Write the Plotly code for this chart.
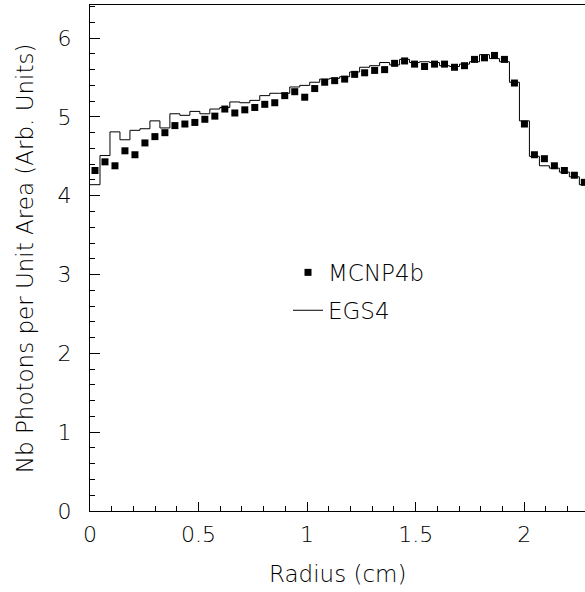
import plotly.graph_objects as go

# ---- data ----
bin_width = 0.046
n_bins = 50
mcnp4b = [4.32, 4.43, 4.38, 4.57, 4.52, 4.67, 4.75, 4.80, 4.89, 4.91,
          4.93, 4.97, 5.01, 5.10, 5.05, 5.09, 5.12, 5.16, 5.18, 5.27,
          5.32, 5.25, 5.36, 5.44, 5.46, 5.48, 5.54, 5.56, 5.59, 5.60,
          5.68, 5.71, 5.67, 5.64, 5.67, 5.67, 5.63, 5.65, 5.73, 5.75,
          5.78, 5.73, 5.43, 4.91, 4.52, 4.47, 4.38, 4.32, 4.26, 4.17]
egs4 = [4.14, 4.51, 4.81, 4.71, 4.83, 4.85, 4.95, 4.86, 5.04, 5.02,
        5.07, 5.04, 5.10, 5.12, 5.19, 5.18, 5.21, 5.27, 5.30, 5.30,
        5.38, 5.40, 5.44, 5.48, 5.49, 5.51, 5.57, 5.63, 5.65, 5.69,
        5.66, 5.73, 5.69, 5.70, 5.69, 5.65, 5.64, 5.67, 5.70, 5.79,
        5.74, 5.70, 5.44, 4.95, 4.50, 4.38, 4.35, 4.30, 4.24, 4.14]
x_title = "Radius (cm)"
y_title = "Nb Photons per Unit Area (Arb. Units)"

centers = [(i + 0.5) * bin_width for i in range(n_bins)]
edges = [i * bin_width for i in range(n_bins + 1)]

FONT = "DejaVu Sans"
TXT = "black"

fig = go.Figure()
fig.add_trace(go.Scatter(
    x=centers, y=mcnp4b, mode="markers", name="MCNP4b",
    marker=dict(symbol="square", size=7, color="black"),
    legendgroup="a",
))
fig.add_trace(go.Scatter(
    x=edges, y=egs4 + [egs4[-1]], mode="lines", name="EGS4",
    line=dict(shape="hv", color="black", width=1),
    legendgroup="b",
))

fig.update_layout(
    width=585, height=592,
    margin=dict(l=90, r=0, t=5, b=81),
    plot_bgcolor="white", paper_bgcolor="white",
    font=dict(family=FONT, size=22, color=TXT, weight=200),
    showlegend=True,
    legend=dict(x=0.40, y=0.514, xanchor="left", yanchor="top",
                bgcolor="rgba(0,0,0,0)",
                font=dict(family=FONT, size=23, color=TXT, weight=200),
                traceorder="grouped", tracegroupgap=5),
    annotations=[
        dict(text=x_title, xref="paper", yref="paper", x=0.5, y=-0.125,
             xanchor="center", yanchor="middle", showarrow=False,
             font=dict(family=FONT, size=23, color=TXT, weight=200)),
        dict(text=y_title, xref="paper", yref="paper", x=-0.131, y=0.5,
             xanchor="center", yanchor="middle", textangle=-90,
             showarrow=False,
             font=dict(family=FONT, size=23, color=TXT, weight=200)),
    ],
)
fig.update_xaxes(
    range=[0, 2.28], showgrid=False, zeroline=False,
    showline=True, linecolor="black", linewidth=1, mirror=True,
    ticks="inside", ticklen=9, tickcolor="black", dtick=0.5, tick0=0,
    minor=dict(ticks="inside", ticklen=5, dtick=0.1, tickcolor="black"),
    ticklabelstandoff=4,
    tickfont=dict(family=FONT, size=22, color=TXT, weight=200),
)
fig.update_yaxes(
    range=[0, 6.42], showgrid=False, zeroline=False,
    showline=True, linecolor="black", linewidth=1,
    ticks="inside", ticklen=10, tickcolor="black", dtick=1, tick0=0,
    minor=dict(ticks="inside", ticklen=5, dtick=0.2, tickcolor="black"),
    ticklabelstandoff=13,
    tickfont=dict(family=FONT, size=22, color=TXT, weight=200),
)

fig.write_html(
    "out.html",
    config={"displayModeBar": False},
    post_script="document.body.style.margin='0';document.body.style.overflow='hidden';",
)
